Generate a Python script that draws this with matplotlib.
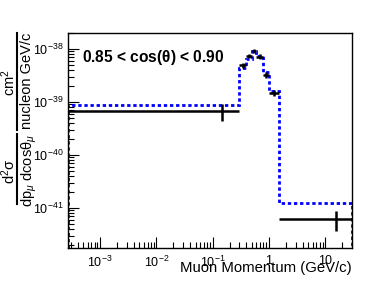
import numpy as np
import matplotlib
matplotlib.use("Agg")
import matplotlib.pyplot as plt
from matplotlib.lines import Line2D
from matplotlib.ticker import LogLocator, NullFormatter, FuncFormatter

plt.rcParams["font.family"] = ["Liberation Sans", "DejaVu Sans"]
plt.rcParams["mathtext.fontset"] = "custom"
plt.rcParams["mathtext.rm"] = "Liberation Sans"
plt.rcParams["mathtext.it"] = "Liberation Sans:italic"
plt.rcParams["mathtext.bf"] = "Liberation Sans:bold"

# bin edges in muon momentum (GeV/c)
edges = [0.0, 0.3, 0.4, 0.5, 0.6, 0.8, 1.0, 1.5, 30.0]
# data cross section per bin
data = [6.8e-40, 5.0e-39, 7.5e-39, 9.3e-39, 7.2e-39, 3.2e-39, 1.5e-39, 6.3e-42]
data_err = [2.5e-40, 5.5e-40, 7e-40, 8e-40, 7e-40, 4e-40, 1.8e-40, 2.6e-42]
# MC prediction
mc = [8.8e-40, 4.4e-39, 6.6e-39, 9.2e-39, 7.5e-39, 3.7e-39, 1.63e-39, 1.26e-41]

xmin, xmax = 2.7e-4, 30.0
ymin, ymax = 1.76e-42, 2.0e-38

edges = np.array(edges)
centers = 0.5 * (edges[:-1] + edges[1:])
lo = np.clip(edges[:-1], 1e-6, None)
xerr = [centers - lo, edges[1:] - centers]

W, H = 387, 283
fig = plt.figure(figsize=(W / 100, H / 100), dpi=100)
ax = fig.add_axes([0.1757, 0.1237, 0.7339, 0.7597])

ax.set_xscale("log")
ax.set_yscale("log")
ax.set_xlim(xmin, xmax)
ax.set_ylim(ymin, ymax)

ax.stairs(mc, np.clip(edges, xmin, None), baseline=ymin, color="#0000ff",
          lw=2, ls=(0, (1.2, 1.0)), zorder=2)
ax.errorbar(centers, data, xerr=xerr, yerr=data_err, fmt="none",
            ecolor="black", elinewidth=1.8, capsize=0, zorder=3)

ax.text(0.05, 0.93, r"0.85 < cos($\mathbf{\theta}$) < 0.90", transform=ax.transAxes,
        fontsize=11.2, fontweight="bold", ha="left", va="top")

ax.xaxis.set_major_locator(LogLocator(base=10, numticks=20))
ax.xaxis.set_minor_locator(LogLocator(base=10, subs=np.arange(2, 10), numticks=20))
ax.xaxis.set_minor_formatter(NullFormatter())
ax.yaxis.set_major_locator(LogLocator(base=10, numticks=20))
ax.yaxis.set_minor_locator(LogLocator(base=10, subs=np.arange(2, 10), numticks=20))
ax.yaxis.set_minor_formatter(NullFormatter())

def xfmt(v, pos):
    e = int(round(np.log10(v)))
    if e == 0:
        return "1"
    if e == 1:
        return "10"
    return r"$10^{%d}$" % e
ax.xaxis.set_major_formatter(FuncFormatter(xfmt))

ax.tick_params(which="both", direction="in", top=False, right=False, labelsize=9)
ax.tick_params(which="major", length=8, width=0.8)
ax.tick_params(which="minor", length=4, width=0.8)
ax.tick_params(axis="x", pad=5)
for s in ax.spines.values():
    s.set_linewidth(1.0)

ax.set_xlabel("Muon Momentum (GeV/c)", fontsize=10.7, loc="right", labelpad=-6.5)

# y title as two stacked fractions (ROOT style), placed in pixel units
def fx(px):
    return px / W

def fy(py):
    return 1 - py / H

fs = 10.5
fig.text(fx(9), fy(83), r"cm$^{2}$", rotation=90, fontsize=fs, ha="center", va="center")
fig.text(fx(27), fy(81), "nucleon GeV/c", rotation=90, fontsize=fs, ha="center", va="center")
fig.add_artist(Line2D([fx(16.7), fx(16.7)], [fy(33), fy(130)], color="black", lw=1.5))
fig.text(fx(9), fy(171), r"d$^{2}$σ", rotation=90, fontsize=fs, ha="center", va="center")
fig.text(fx(29), fy(170), r"dp$_{\mu}$ dcos$\mathrm{\theta}_{\mu}$", rotation=90,
         fontsize=fs, ha="center", va="center")
fig.add_artist(Line2D([fx(16.7), fx(16.7)], [fy(134), fy(204)], color="black", lw=1.5))

fig.savefig("out.png", dpi=100)
